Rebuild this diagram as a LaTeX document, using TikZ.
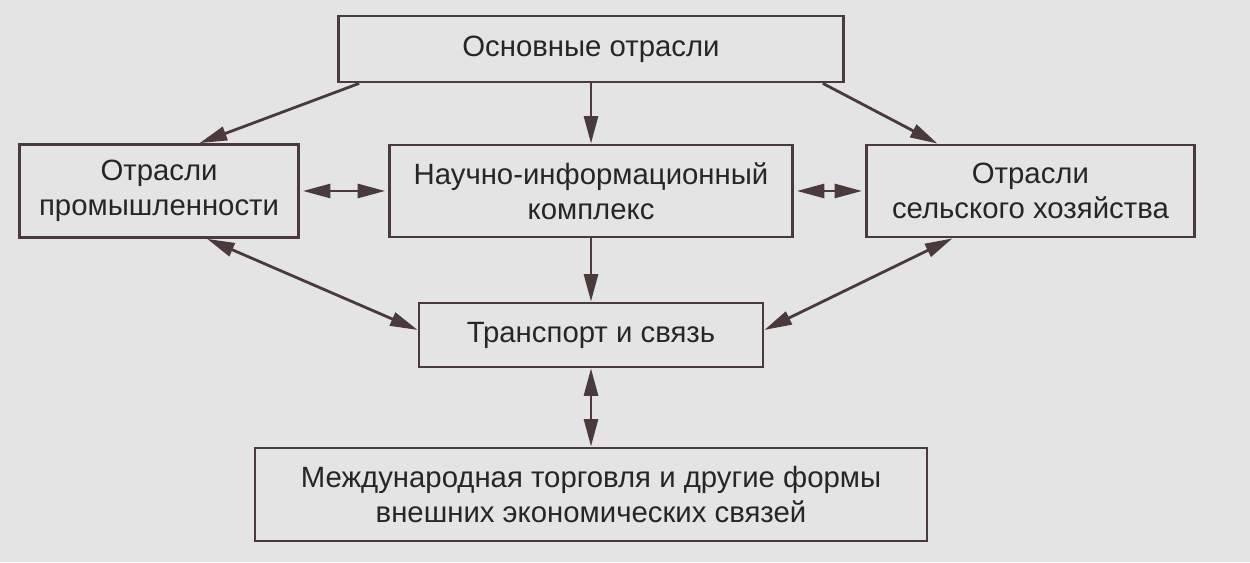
\documentclass[tikz,border=0pt]{standalone}
\usepackage{fontspec}
\setmainfont{Liberation Sans}
\usetikzlibrary{positioning,arrows,arrows.meta}
\definecolor{ink}{HTML}{4A3A3C}
\definecolor{paper}{HTML}{E4E4E4}
\tikzstyle{block} = [
draw=ink,
line width=1.6pt,
text=black!85,
align=center,
inner sep=0pt
]

\begin{document}
\begin{tikzpicture}[
	x=0.02cm,
	y=-0.02cm,
	font=\fontsize{16.7}{19.9}\selectfont,
	>={Triangle[length=0.55cm,width=0.28cm]},
	line width=1.6pt
	]
	
	\fill[paper] (0,0) rectangle (1250,562);
	
	\node[block,minimum width=10.1cm,minimum height=1.32cm] (osn) at (591,49) {Основные отрасли};
	\node[block,minimum width=8.06cm,minimum height=1.84cm,node distance=2.84cm,below of=osn] (nauka) {Научно-информационный\\комплекс};
	\node[block,minimum width=5.58cm,minimum height=1.86cm,node distance=8.64cm,left of=nauka] (prom) {Отрасли\\промышленности};
	\node[block,minimum width=6.56cm,minimum height=1.84cm,node distance=8.79cm,right of=nauka] (selh) {Отрасли\\сельского хозяйства};
	\node[block,minimum width=6.88cm,minimum height=1.28cm,node distance=2.88cm,below of=nauka] (trans) {Транспорт и связь};
	\node[block,minimum width=13.44cm,minimum height=1.86cm,node distance=3.19cm,below of=trans] (torg) {Международная торговля и другие формы\\внешних экономических связей};
	
	\path[->,ink] ([xshift=0.44cm]osn.south west) edge ([xshift=0.81cm]prom.north);
	\path[->,ink] (osn.south) edge (nauka.north);
	\path[->,ink] ([xshift=-0.44cm]osn.south east) edge ([xshift=-1.86cm]selh.north);
	\path[<->,ink,shorten <=0.06cm,shorten >=0.06cm] (prom.east) edge (nauka.west);
	\path[<->,ink,shorten <=0.06cm,shorten >=0.06cm] (nauka.east) edge (selh.west);
	\path[->,ink] (nauka.south) edge (trans.north);
	\path[<->,ink] ([xshift=0.96cm]prom.south) edge ([yshift=0.1cm]trans.west);
	\path[<->,ink] ([xshift=-1.56cm]selh.south) edge ([yshift=0.1cm]trans.east);
	\path[<->,ink] (trans.south) edge (torg.north);
\end{tikzpicture}
\end{document}
